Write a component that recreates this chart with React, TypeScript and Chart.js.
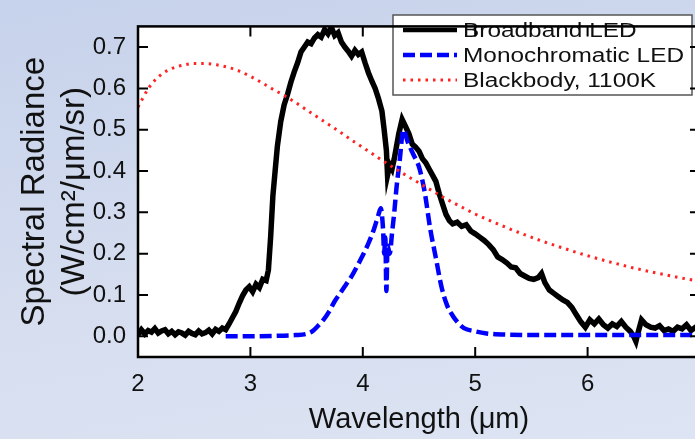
import React, { useEffect, useRef } from "react";
import { Chart, registerables } from "chart.js";

Chart.register(...registerables);

const xTickValues = [2, 3, 4, 5, 6];
const yTickValues = [0, 0.1, 0.2, 0.3, 0.4, 0.5, 0.6, 0.7];

const seriesLabels = ["Broadband LED", "Monochromatic LED", "Blackbody, 1100K"];

const broadbandWl = [
  2.0, 2.03, 2.06, 2.09, 2.12, 2.15, 2.18, 2.21, 2.24, 2.27, 2.3, 2.33, 2.36, 2.39, 2.42, 2.45,
  2.48, 2.51, 2.54, 2.57, 2.6, 2.63, 2.66, 2.69, 2.72, 2.75, 2.78, 2.81, 2.84, 2.87, 2.9, 2.93,
  2.96, 2.99, 3.02, 3.05, 3.08, 3.11, 3.14, 3.16, 3.18, 3.2, 3.22, 3.24, 3.27, 3.3, 3.33, 3.36,
  3.39, 3.42, 3.45, 3.48, 3.51, 3.54, 3.57, 3.6, 3.63, 3.66, 3.69, 3.72, 3.75, 3.78, 3.81, 3.84,
  3.87, 3.9, 3.93, 3.96, 3.99, 4.02, 4.05, 4.08, 4.11, 4.14, 4.17, 4.19, 4.21, 4.22, 4.24, 4.26,
  4.28, 4.3, 4.32, 4.35, 4.38, 4.41, 4.44, 4.47, 4.5, 4.53, 4.56, 4.59, 4.62, 4.65, 4.68, 4.71,
  4.74, 4.77, 4.8, 4.84, 4.88, 4.92, 4.96, 5.0, 5.04, 5.08, 5.12, 5.16, 5.2, 5.24, 5.28, 5.32,
  5.36, 5.4, 5.44, 5.48, 5.52, 5.56, 5.59, 5.62, 5.66, 5.7, 5.74, 5.78, 5.82, 5.86, 5.9, 5.94,
  5.98, 6.02, 6.06, 6.1, 6.14, 6.18, 6.22, 6.26, 6.3, 6.34, 6.38, 6.41, 6.43, 6.45, 6.48, 6.52,
  6.56, 6.6, 6.64, 6.68, 6.72, 6.76, 6.8, 6.84, 6.88, 6.92, 6.96, 7.0,
];
const broadbandVal = [
  0.004, 0.016, 0.006, 0.014, 0.01, 0.019, 0.008, 0.013, 0.016, 0.006, 0.012, 0.004, 0.011, 0.008, 0.003, 0.012,
  0.007, 0.004, 0.013, 0.006, 0.009, 0.015, 0.006, 0.017, 0.012, 0.02, 0.016, 0.03, 0.045, 0.06, 0.08, 0.098,
  0.112, 0.12, 0.108, 0.126, 0.118, 0.138, 0.135, 0.16, 0.24, 0.34, 0.4, 0.46, 0.52, 0.56, 0.585, 0.615,
  0.64, 0.662, 0.688, 0.7, 0.712, 0.708, 0.722, 0.73, 0.724, 0.742, 0.732, 0.748, 0.728, 0.735, 0.712, 0.7,
  0.69, 0.678, 0.692, 0.682, 0.688, 0.662, 0.638, 0.618, 0.6, 0.575, 0.545, 0.5, 0.45, 0.39, 0.415, 0.405,
  0.43, 0.46, 0.49, 0.525, 0.508, 0.49, 0.465, 0.458, 0.448, 0.43, 0.42, 0.405, 0.39, 0.375, 0.345, 0.32,
  0.295, 0.28, 0.272, 0.276, 0.266, 0.27, 0.255, 0.248, 0.24, 0.232, 0.222, 0.21, 0.192, 0.186, 0.178, 0.168,
  0.166, 0.152, 0.146, 0.14, 0.138, 0.142, 0.152, 0.13, 0.112, 0.104, 0.096, 0.088, 0.082, 0.07, 0.052, 0.035,
  0.022, 0.04, 0.03, 0.042, 0.028, 0.02, 0.03, 0.024, 0.036, 0.022, 0.012, 0.0, -0.012, 0.01, 0.04, 0.028,
  0.022, 0.02, 0.026, 0.014, 0.018, 0.012, 0.022, 0.018, 0.028, 0.014, 0.022, 0.018,
];

const monoWl = [
  2.78, 3.0, 3.2, 3.4, 3.5, 3.55, 3.6, 3.65, 3.7, 3.75, 3.8, 3.85, 3.9, 3.95, 4.0, 4.05, 4.1, 4.14,
  4.16, 4.18, 4.19, 4.2, 4.21, 4.22, 4.24, 4.26, 4.28, 4.3, 4.33, 4.36, 4.4, 4.45, 4.5, 4.55, 4.6,
  4.65, 4.7, 4.75, 4.8, 4.85, 4.9, 5.0, 5.1, 5.3, 5.6, 6.0, 6.5, 7.0,
];
const monoVal = [
  0.0, 0.0, 0.001, 0.003, 0.006, 0.012, 0.025, 0.04, 0.06, 0.085, 0.105, 0.125, 0.145, 0.17, 0.196, 0.225, 0.26, 0.295,
  0.31, 0.26, 0.2, 0.24, 0.11, 0.22, 0.2, 0.25, 0.3, 0.36, 0.43, 0.5, 0.47, 0.44, 0.41, 0.35, 0.26,
  0.19, 0.12, 0.075, 0.05, 0.032, 0.02, 0.012, 0.007, 0.004, 0.003, 0.003, 0.003, 0.003,
];

const blackbodyWl = [
  2.0, 2.1, 2.2, 2.3, 2.4, 2.5, 2.6, 2.7, 2.8, 2.9, 3.0, 3.1, 3.2, 3.3, 3.4, 3.5, 3.6, 3.7, 3.8, 3.9,
  4.0, 4.1, 4.2, 4.3, 4.4, 4.5, 4.6, 4.7, 4.8, 4.9, 5.0, 5.2, 5.4, 5.6, 5.8, 6.0, 6.2, 6.4, 6.6, 6.8, 7.0,
];
const blackbodyVal = [
  0.555, 0.603, 0.632, 0.648, 0.656, 0.66, 0.66, 0.657, 0.651, 0.642, 0.629, 0.614, 0.598, 0.583, 0.566, 0.548,
  0.53, 0.512, 0.494, 0.475, 0.457, 0.439, 0.421, 0.404, 0.387, 0.371, 0.355, 0.339, 0.324, 0.31, 0.296, 0.272,
  0.25, 0.23, 0.212, 0.195, 0.18, 0.166, 0.154, 0.143, 0.133,
];

const toPoints = (xs: number[], ys: number[]) => xs.map((x, i) => ({ x, y: ys[i] }));

const FONT = '"Liberation Sans", Arial, Helvetica, sans-serif';

const framePlugin = {
  id: "framePlugin",
  beforeDraw(chart: any) {
    const { ctx, chartArea: a } = chart;
    ctx.save();
    ctx.fillStyle = "#ffffff";
    ctx.fillRect(a.left, a.top, a.right - a.left, a.bottom - a.top);
    ctx.restore();
  },
  afterDraw(chart: any) {
    const { ctx, chartArea: a } = chart;
    const xs = chart.scales.x;
    const ys = chart.scales.y;

    // legend
    ctx.save();
    const lx = 393, ly = 15, lw = 299, lh = 80;
    ctx.fillStyle = "#ffffff";
    ctx.fillRect(lx, ly, lw, lh);
    ctx.strokeStyle = "#555555";
    ctx.lineWidth = 1.5;
    ctx.strokeRect(lx, ly, lw, lh);
    const rows = [30, 55, 80];
    chart.data.datasets.forEach((ds: any, i: number) => {
      const y = rows[i];
      ctx.save();
      ctx.strokeStyle = ds.borderColor;
      ctx.lineWidth = Math.min(ds.borderWidth, 4.5);
      ctx.setLineDash(ds.borderDash || []);
      ctx.beginPath();
      ctx.moveTo(403, y);
      ctx.lineTo(457, y);
      ctx.stroke();
      ctx.restore();
      ctx.save();
      ctx.fillStyle = "#111111";
      ctx.font = `20px ${FONT}`;
      ctx.textBaseline = "middle";
      ctx.textAlign = "left";
      ctx.translate(463, y + 1);
      ctx.scale(1.22, 1);
      ctx.fillText(ds.label, 0, 0);
      ctx.restore();
    });
    ctx.restore();

    // inward ticks on all four sides
    ctx.save();
    ctx.strokeStyle = "#000000";
    ctx.lineWidth = 2;
    ctx.beginPath();
    xTickValues.forEach((v) => {
      const px = xs.getPixelForValue(v);
      ctx.moveTo(px, a.bottom);
      ctx.lineTo(px, a.bottom - 10);
      ctx.moveTo(px, a.top);
      ctx.lineTo(px, a.top + 10);
    });
    yTickValues.forEach((v) => {
      const py = ys.getPixelForValue(v);
      ctx.moveTo(a.left, py);
      ctx.lineTo(a.left + 10, py);
      ctx.moveTo(a.right, py);
      ctx.lineTo(a.right - 10, py);
    });
    ctx.stroke();
    ctx.lineWidth = 2.5;
    ctx.strokeRect(a.left, a.top, a.right - a.left, a.bottom - a.top);
    ctx.restore();
  },
};

export default function App() {
  const ref = useRef<HTMLCanvasElement | null>(null);

  useEffect(() => {
    document.body.style.margin = "0";
    const canvas = ref.current;
    if (!canvas) return;
    const chart = new Chart(canvas, {
      type: "line",
      data: {
        datasets: [
          {
            label: seriesLabels[0],
            data: toPoints(broadbandWl, broadbandVal),
            borderColor: "#000000",
            borderWidth: 5.5,
            pointRadius: 0,
            tension: 0,
            borderJoinStyle: "miter",
            order: 3,
          },
          {
            label: seriesLabels[1],
            data: toPoints(monoWl, monoVal),
            borderColor: "#0000ff",
            borderWidth: 4.5,
            borderDash: [12, 5],
            pointRadius: 0,
            cubicInterpolationMode: "monotone",
            order: 2,
          },
          {
            label: seriesLabels[2],
            data: toPoints(blackbodyWl, blackbodyVal),
            borderColor: "#ff2424",
            borderWidth: 3,
            borderDash: [2.5, 5],
            pointRadius: 0,
            cubicInterpolationMode: "monotone",
            order: 1,
          },
        ],
      },
      options: {
        animation: false,
        responsive: false,
        devicePixelRatio: 1,
        layout: { padding: { top: 11, right: 5, left: 0, bottom: 0 } },
        plugins: { legend: { display: false }, tooltip: { enabled: false } },
        scales: {
          x: {
            type: "linear",
            min: 2,
            max: 7,
            grid: { display: false, drawTicks: false },
            border: { display: false },
            afterBuildTicks: (s: any) => {
              s.ticks = xTickValues.map((v) => ({ value: v }));
            },
            afterFit: (s: any) => {
              s.height = 82;
            },
            ticks: {
              padding: 13,
              color: "#111111",
              font: { family: FONT, size: 24 },
              maxRotation: 0,
              autoSkip: false,
              callback: (v: any) => String(v),
            },
            title: {
              display: true,
              text: "Wavelength (μm)",
              color: "#111111",
              font: { family: FONT, size: 29, lineHeight: 1.2 },
              padding: { top: 0, bottom: 2 },
            },
          },
          y: {
            type: "linear",
            min: -0.05,
            max: 0.75,
            grid: { display: false, drawTicks: false },
            border: { display: false },
            afterBuildTicks: (s: any) => {
              s.ticks = yTickValues.map((v) => ({ value: v }));
            },
            afterFit: (s: any) => {
              s.width = 138;
            },
            ticks: {
              padding: 12,
              color: "#111111",
              font: { family: FONT, size: 24 },
              autoSkip: false,
              callback: (v: any) => Number(v).toFixed(1),
            },
            title: {
              display: true,
              text: ["Spectral Radiance", "(W/cm²/μm/sr)"],
              color: "#111111",
              font: { family: FONT, size: 33, lineHeight: 1.22 },
              padding: { top: 15, bottom: 0 },
            },
          },
        },
      },
      plugins: [framePlugin],
    });
    return () => chart.destroy();
  }, []);

  return (
    <div
      style={{
        width: 695,
        height: 439,
        overflow: "hidden",
        background: "linear-gradient(170deg, #c6d2eb 0%, #d5ddef 55%, #dde4f3 100%)",
      }}
    >
      <canvas ref={ref} width={705} height={439} style={{ display: "block", width: 705, height: 439 }} />
    </div>
  );
}
